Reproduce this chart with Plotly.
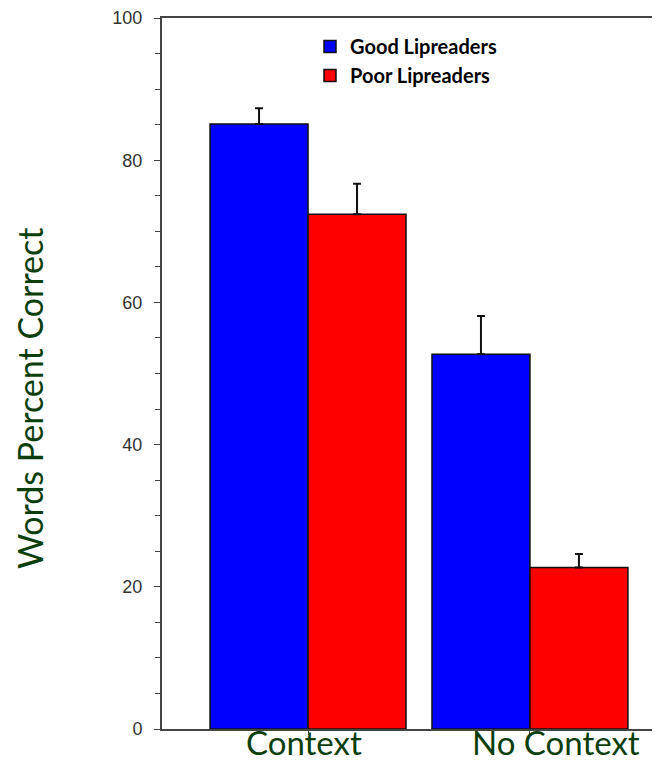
import plotly.graph_objects as go

categories = ["Context", "No Context"]
series_names = ["Good Lipreaders", "Poor Lipreaders"]
good_values = [85.1, 52.7]
good_err_plus = [2.2, 5.4]
poor_values = [72.4, 22.7]
poor_err_plus = [4.3, 1.9]
y_ticks = [0, 20, 40, 60, 80, 100]

GREEN = "#0b3e0b"
AXIS = "#444444"

# page body has an 8px default margin; figure is sized/offset to compensate
W, H = 652, 755
ML, MT, MB = 154, 10, 34
PW = W - ML
PH = H - MT - MB

fig = go.Figure()
for name, vals, errs, color, grp in [
    (series_names[0], good_values, good_err_plus, "#0000ff", "g1"),
    (series_names[1], poor_values, poor_err_plus, "#ff0000", "g2"),
]:
    fig.add_trace(go.Bar(
        x=categories, y=vals, name=name, legendgroup=grp,
        marker=dict(color=color, line=dict(color="#111111", width=1.5)),
        error_y=dict(type="data", symmetric=False, array=errs,
                     arrayminus=[0] * len(errs),
                     color="#111111", thickness=2, width=4),
    ))

def px_x(p):  # screen pixel -> paper x
    return (p - 8 - ML) / PW

def px_y(p):  # screen pixel -> paper y
    return 1 - (p - 8 - MT) / PH

fig.update_layout(
    width=W, height=H,
    margin=dict(l=ML, r=0, t=MT, b=MB),
    plot_bgcolor="white", paper_bgcolor="white",
    barmode="group", bargap=0.117, bargroupgap=0,
    showlegend=True,
    legend=dict(x=px_x(310), y=px_y(27), xanchor="left", yanchor="top",
                font=dict(family="Lato", size=20, color="black", weight="bold"),
                bgcolor="rgba(0,0,0,0)", tracegroupgap=0,
                traceorder="grouped"),
    xaxis=dict(
        type="category", range=[-0.658, 1.586],
        showline=True, linecolor=AXIS, linewidth=2, mirror=True,
        ticks="outside", ticklen=4, tickcolor=AXIS, tickwidth=1,
        showticklabels=False, showgrid=False, zeroline=False,
    ),
    yaxis=dict(
        range=[0, 100], tickvals=y_ticks,
        showline=True, linecolor=AXIS, linewidth=2,
        ticks="outside", ticklen=6, tickcolor=AXIS, tickwidth=1,
        minor=dict(dtick=5, ticks="outside", ticklen=5, tickcolor=AXIS, tickwidth=1),
        tickfont=dict(family="Liberation Sans", size=18, color="#333333"),
        ticklabelstandoff=8,
        showgrid=False, zeroline=False,
    ),
)

label_x = [-0.018, 1.117]
for cat, lx in zip(categories, label_x):
    fig.add_annotation(x=lx, xref="x", y=px_y(763), yref="paper",
                       text=cat, showarrow=False, xanchor="center", yanchor="bottom",
                       borderpad=0,
                       font=dict(family="Lato", size=33, color=GREEN))

fig.add_annotation(x=px_x(29), xref="paper", y=px_y(399), yref="paper",
                   xanchor="center", yanchor="middle",
                   text="Words Percent Correct", showarrow=False, textangle=-90,
                   font=dict(family="Lato", size=34, color=GREEN))

fig.write_html("out.html")
